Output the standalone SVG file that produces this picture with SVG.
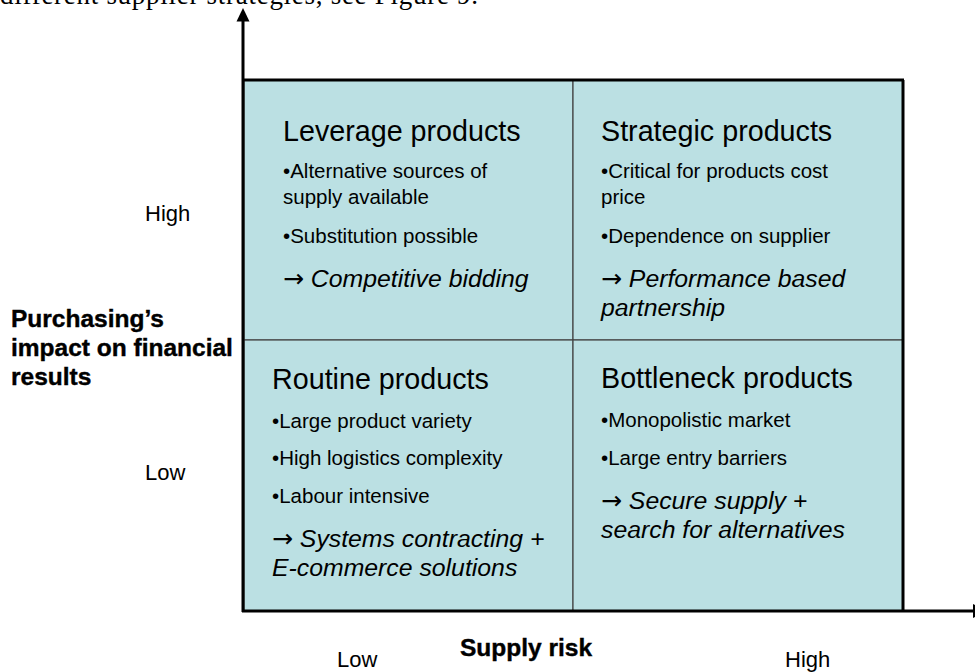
<svg xmlns="http://www.w3.org/2000/svg" width="975" height="672" viewBox="0 0 975 672">
<style>
.cap{font-family:"Liberation Serif","Times New Roman",serif;font-size:27px;fill:#000}
.h{font-family:"Liberation Sans",Arial,sans-serif;font-size:28.7px;fill:#000}
.b{font-family:"Liberation Sans",Arial,sans-serif;font-size:20.5px;fill:#000}
.i{font-family:"Liberation Sans",Arial,sans-serif;font-size:24.8px;font-style:italic;fill:#000}
.ar{font-family:"DejaVu Sans",sans-serif;font-style:normal;font-size:25px}
.lab{font-family:"Liberation Sans",Arial,sans-serif;font-size:22px;fill:#000}
.bl{font-family:"Liberation Sans",Arial,sans-serif;font-size:24.5px;font-weight:bold;fill:#000;stroke:#000;stroke-width:0.4}
.cell{fill:#BBE0E3;stroke:#444;stroke-width:1.2}
.ax{stroke:#000;stroke-width:3;fill:none}
</style>
<rect width="975" height="672" fill="#fff"/>
<text class="cap" x="0" y="4" textLength="478" lengthAdjust="spacing">different supplier strategies, see Figure 9.</text>

<g id="leverage">
<rect class="cell" x="244" y="80" width="329" height="260"/>
<text class="h" x="283" y="141">Leverage products</text>
<text class="b" x="283" y="178">•Alternative sources of</text>
<text class="b" x="283" y="204">supply available</text>
<text class="b" x="283" y="243">•Substitution possible</text>
<text class="i" x="283" y="287"><tspan class="ar">→</tspan> Competitive bidding</text>
</g>
<g id="strategic">
<rect class="cell" x="573" y="80" width="330" height="260"/>
<text class="h" x="601" y="141">Strategic products</text>
<text class="b" x="601" y="178">•Critical for products cost</text>
<text class="b" x="601" y="204">price</text>
<text class="b" x="601" y="243">•Dependence on supplier</text>
<text class="i" x="601" y="287"><tspan class="ar">→</tspan> Performance based</text>
<text class="i" x="601" y="316">partnership</text>
</g>
<g id="routine">
<rect class="cell" x="244" y="340" width="329" height="271"/>
<text class="h" x="272" y="389">Routine products</text>
<text class="b" x="272" y="428">•Large product variety</text>
<text class="b" x="272" y="465">•High logistics complexity</text>
<text class="b" x="272" y="503">•Labour intensive</text>
<text class="i" x="272" y="547"><tspan class="ar">→</tspan> Systems contracting +</text>
<text class="i" x="272" y="576">E-commerce solutions</text>
</g>
<g id="bottleneck">
<rect class="cell" x="573" y="340" width="330" height="271"/>
<text class="h" x="601" y="388">Bottleneck products</text>
<text class="b" x="601" y="427">•Monopolistic market</text>
<text class="b" x="601" y="465">•Large entry barriers</text>
<text class="i" x="601" y="509"><tspan class="ar">→</tspan> Secure supply +</text>
<text class="i" x="601" y="538">search for alternatives</text>
</g>

<g id="connectors">
<line class="ax" x1="243" y1="80" x2="904" y2="80"/>
<line class="ax" x1="903" y1="80" x2="903" y2="611"/>
<line class="ax" x1="243" y1="20" x2="243" y2="612" stroke-width="2.5"/>
<polygon points="243,8 236.5,21.5 249.5,21.5" fill="#000"/>
<line class="ax" x1="242" y1="611" x2="974" y2="611"/>
<polygon points="973,604 973,618 987,611" fill="#000"/>
</g>

<g id="axis-labels">
<text class="lab" x="145" y="221">High</text>
<text class="lab" x="145" y="480">Low</text>
<text class="bl" x="11" y="327">Purchasing’s</text>
<text class="bl" x="11" y="356">impact on financial</text>
<text class="bl" x="11" y="385">results</text>
<text class="bl" x="460" y="656">Supply risk</text>
<text class="lab" x="337" y="667">Low</text>
<text class="lab" x="785" y="667">High</text>
</g>
</svg>
